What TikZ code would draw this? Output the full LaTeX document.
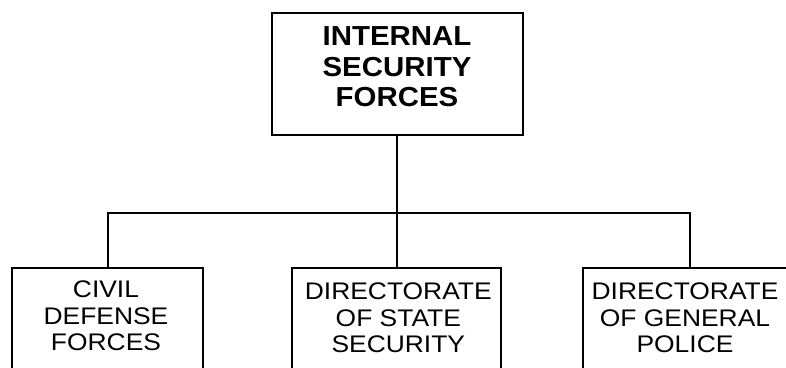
\documentclass[tikz,border=0pt]{standalone}
\usepackage{fontspec}
\newfontfamily\orgfont[FakeStretch=1.07]{Liberation Sans}
\newfontfamily\subfont[FakeStretch=1.1]{Liberation Sans}
\begin{document}
\begin{tikzpicture}[x=1pt,y=-1pt,
  box/.style={draw=black,line width=2pt,fill=none,inner sep=0pt},
  toptext/.style={inner sep=0pt,align=center,font=\orgfont\bfseries\fontsize{27.5}{30.5}\selectfont},
  subtext/.style={inner sep=0pt,align=center,font=\subfont\fontsize{24}{26.5}\selectfont},
  link/.style={line width=2pt}]
\useasboundingbox (0,0) rectangle (786,367);
\fill[white] (0,0) rectangle (786,367);
\clip (0,0) rectangle (786,367);
% boxes
\node[box,minimum width=251pt,minimum height=121.7pt] (isf) at (397.2,74.2) {};
\node[box,minimum width=191pt,minimum height=112pt] (civ) at (107.8,324) {};
\node[box,minimum width=209pt,minimum height=112pt] (sec) at (396.2,324) {};
\node[box,minimum width=214pt,minimum height=112pt] (pol) at (690,324) {};
% texts
\node[toptext] (isft) at (397,66.7) {INTERNAL\\SECURITY\\FORCES};
\node[subtext] (civt) at (106,316) {CIVIL\\DEFENSE\\FORCES};
\node[subtext] (sect) at (398.3,318) {DIRECTORATE\\OF STATE\\SECURITY};
\node[subtext] (polt) at (685,318) {DIRECTORATE\\OF GENERAL\\POLICE};
% connectors
\coordinate (bus) at (397,213);
\draw[link] (isf.south) -- (isf.south |- sec.north);
\draw[link] (civ.north) |- (bus) -| (pol.north);
\end{tikzpicture}
\end{document}
